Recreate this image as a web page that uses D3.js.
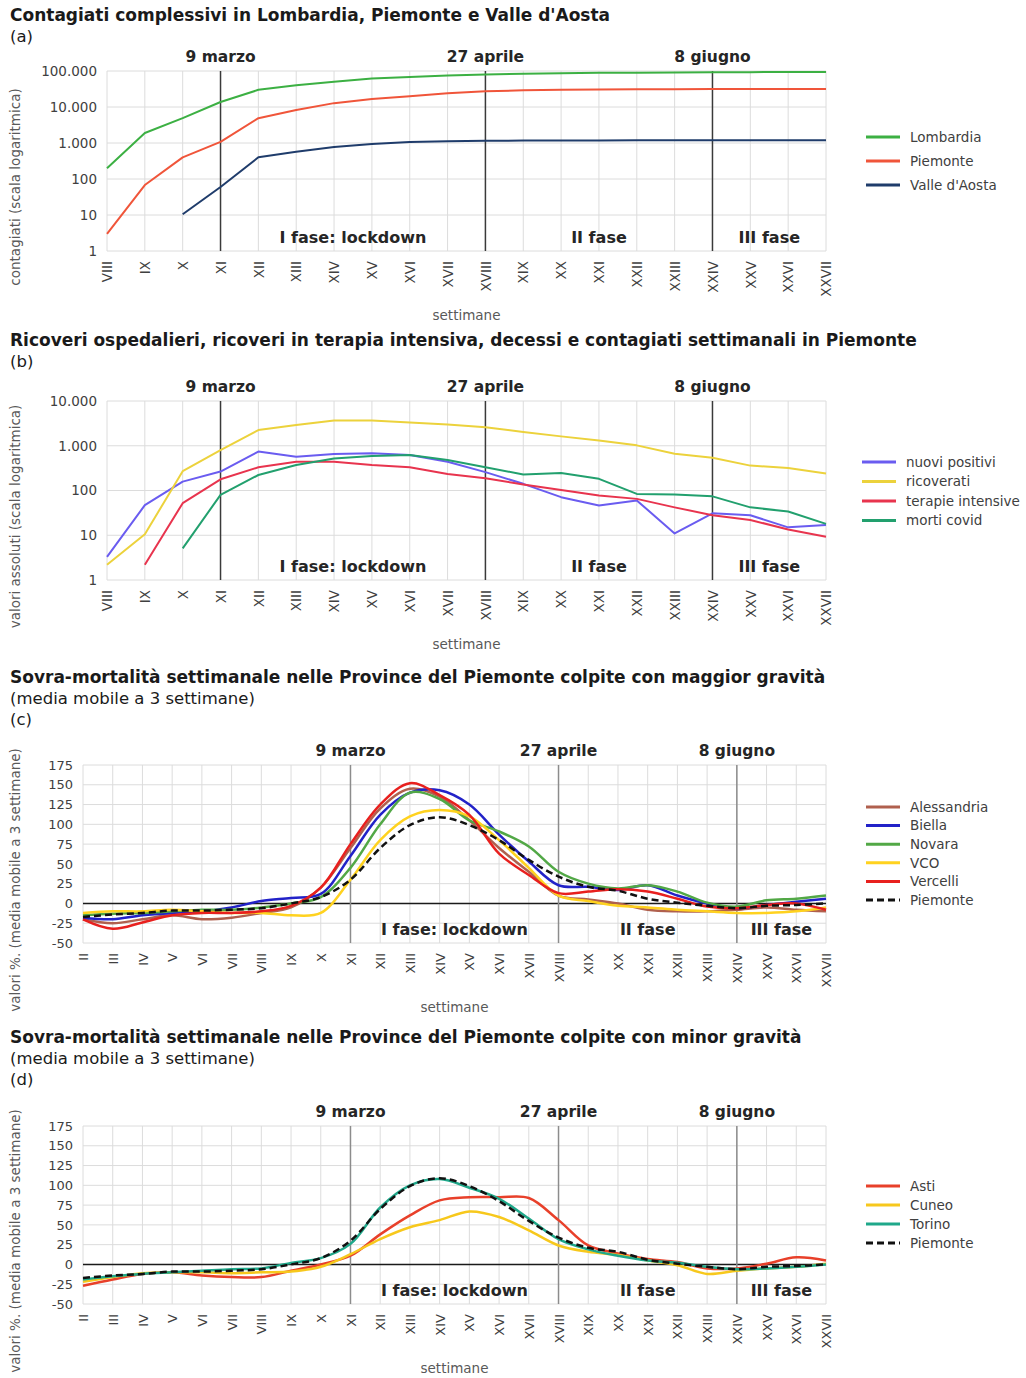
<!DOCTYPE html>
<html>
<head>
<meta charset="utf-8">
<script src="https://cdn.jsdelivr.net/npm/d3@7"></script>
<style>
  body { margin: 0; background: #fff; }
  text { font-family: "DejaVu Sans", Verdana, sans-serif; }
</style>
</head>
<body>
<div id="chart"></div>
<script>
// Weeks (roman numerals) on the x axis
const weeksAB = ["VIII", "IX", "X", "XI", "XII", "XIII", "XIV", "XV", "XVI", "XVII", "XVIII",
                 "XIX", "XX", "XXI", "XXII", "XXIII", "XXIV", "XXV", "XXVI", "XXVII"];
const weeksCD = ["II", "III", "IV", "V", "VI", "VII"].concat(weeksAB);

// Event markers and phases
const eventWeeks = ["XI", "XVIII", "XXIV"];
const eventLabels = ["9 marzo", "27 aprile", "8 giugno"];
const phaseLabels = ["I fase: lockdown", "II fase", "III fase"];

// (a) cumulative cases
const lombardia = [200, 1900, 4900, 13800, 30000, 40000, 50000, 62000, 68000, 75000, 80000,
                   84000, 87000, 89000, 90000, 91000, 92000, 93000, 93500, 94000];
const piemonteCum = [3, 68, 400, 1070, 4900, 8300, 12800, 16700, 20000, 24000, 27500,
                     29000, 30000, 30500, 31000, 31200, 31400, 31500, 31600, 31800];
const valleAosta = [null, null, 10.5, 60, 400, 570, 780, 940, 1070, 1120, 1150,
                    1165, 1175, 1180, 1185, 1190, 1190, 1195, 1195, 1200];

// (b) weekly values in Piemonte
const nuoviPositivi = [3.3, 47, 158, 265, 740, 570, 655, 680, 620, 440, 257,
                       141, 71, 46, 60, 11, 31, 28, 15, 17];
const ricoverati = [2.2, 10.5, 270, 800, 2240, 2900, 3650, 3650, 3300, 3000, 2600,
                    2030, 1620, 1310, 1020, 660, 540, 360, 320, 240];
const terapieIntensive = [null, 2.2, 52, 178, 330, 440, 440, 370, 330, 234, 187,
                          136, 103, 77, 65, 42, 28, 22, 13.4, 9.3];
const mortiCovid = [null, null, 5.1, 80, 222, 370, 520, 590, 620, 480, 330,
                    228, 245, 182, 84, 81, 74, 42, 34, 18];

// (c) provinces hit harder (3-week moving average, %)
const alessandria = [-20, -25, -20, -15, -20, -18, -12, -5, 20, 70, 120, 145, 135,
                     105, 70, 40, 10, 5, 0, -8, -10, -10, -8, -5, -8, -10];
const biella = [-18, -20, -15, -12, -10, -5, 3, 7, 12, 60, 112, 140, 143,
                125, 87, 53, 23, 21, 17, 23, 10, 0, -6, -2, 2, 6];
const novara = [-15, -13, -12, -10, -8, -8, -5, 0, 8, 45, 100, 140, 132,
                105, 91, 72, 40, 25, 19, 23, 15, 1, -4, 4, 6, 10];
const vco = [-12, -10, -10, -8, -10, -12, -12, -15, -12, 30, 80, 110, 118,
             110, 80, 45, 10, 3, -3, -5, -8, -10, -12, -12, -10, -5];
const vercelli = [-20, -32, -24, -15, -12, -12, -10, -3, 20, 75, 125, 152, 137,
                  112, 63, 36, 13, 15, 18, 15, 6, -4, -6, -2, 0, -8];
const piemonte3w = [-17, -14, -12, -9, -9, -8, -6, 0, 8, 30, 70, 99, 109,
                    99, 80, 55, 34, 21, 16, 6, 1, -3, -6, -3, -2, 0];

// (d) provinces hit less
const asti = [-27, -19, -12, -10, -14, -16, -16, -8, 0, 11, 38, 62, 81,
              85, 85, 84, 56, 24, 14, 7, 3, -5, -5, 1, 9, 5];
const cuneo = [-22, -16, -11, -10, -10, -11, -10, -9, -3, 13, 32, 47, 56,
               67, 60, 43, 24, 16, 12, 5, -1, -12, -8, -5, -3, 1];
const torino = [-19, -15, -12, -10, -8, -6, -5, 2, 8, 26, 72, 100, 108,
                97, 83, 58, 32, 19, 11, 5, 2, -3, -6, -5, -3, 0];

const logTicksA = [1, 10, 100, 1000, 10000, 100000];
const logTicksB = [1, 10, 100, 1000, 10000];
const pctTicks = [-50, -25, 0, 25, 50, 75, 100, 125, 150, 175];

// Italian number format
const itLocale = d3.formatLocale({decimal: ",", thousands: ".", grouping: [3], currency: ["", "€"], minus: "-"});
const fmtInt = itLocale.format(",");

const svg = d3.select("#chart")
              .append("svg")
              .attr("width", 1026)
              .attr("height", 1378);

function drawPanel(p) {
   let g = svg.append("g");

   // Titles: first line bold, the rest regular
   p.titles.forEach((t, i) => {
      g.append("text")
       .attr("x", 10)
       .attr("y", p.titleY + i * 21)
       .style("font-size", i == 0 ? "17px" : "16.5px")
       .style("font-weight", i == 0 ? "bold" : "normal")
       .attr("fill", "#1a1a1a")
       .text(t);
   });

   let x = d3.scalePoint()
             .domain(p.weeks)
             .range([p.left, p.right]);

   let y = (p.log ? d3.scaleLog() : d3.scaleLinear())
             .domain(p.yDomain)
             .range([p.bottom, p.top]);

   // Grid
   g.append("g")
    .selectAll("line")
    .data(p.weeks)
    .join("line")
    .attr("x1", d => x(d)).attr("x2", d => x(d))
    .attr("y1", p.top).attr("y2", p.bottom)
    .attr("stroke", "#dcdcdc");

   g.append("g")
    .selectAll("line")
    .data(p.yTicks)
    .join("line")
    .attr("x1", p.left).attr("x2", p.right)
    .attr("y1", d => y(d)).attr("y2", d => y(d))
    .attr("stroke", "#dcdcdc");

   // Y axis
   g.append("g")
    .attr("transform", `translate(${p.left},0)`)
    .call(d3.axisLeft(y).tickValues(p.yTicks).tickSize(0).tickPadding(10).tickFormat(fmtInt))
    .call(a => a.select(".domain").remove())
    .call(a => a.selectAll("text")
                .style("font-size", p.tickSize)
                .style("font-family", "'DejaVu Sans', sans-serif")
                .attr("fill", "#404040"));

   // X axis, labels rotated
   g.append("g")
    .attr("transform", `translate(0,${p.bottom})`)
    .call(d3.axisBottom(x).tickSize(0))
    .call(a => a.select(".domain").remove())
    .call(a => a.selectAll("text")
                .attr("transform", "rotate(-90)")
                .attr("text-anchor", "end")
                .attr("x", -10)
                .attr("y", 0)
                .attr("dy", "0.35em")
                .style("font-size", p.tickSize)
                .style("font-family", "'DejaVu Sans', sans-serif")
                .attr("fill", "#404040"));

   // Zero line
   if (!p.log) {
      g.append("line")
       .attr("x1", p.left).attr("x2", p.right)
       .attr("y1", y(0)).attr("y2", y(0))
       .attr("stroke", "#1a1a1a")
       .attr("stroke-width", 1.5);
   }

   // Event lines and labels
   eventWeeks.forEach((w, i) => {
      g.append("line")
       .attr("x1", x(w)).attr("x2", x(w))
       .attr("y1", p.top).attr("y2", p.bottom)
       .attr("stroke", p.eventColor)
       .attr("stroke-width", 1.5);
      g.append("text")
       .attr("x", x(w))
       .attr("y", p.top - 9)
       .attr("text-anchor", "middle")
       .style("font-size", "15.5px")
       .style("font-weight", "bold")
       .attr("fill", "#262626")
       .text(eventLabels[i]);
   });

   // Phase labels
   let bounds = eventWeeks.map(w => x(w)).concat([p.right]);
   phaseLabels.forEach((t, i) => {
      g.append("text")
       .attr("x", (bounds[i] + bounds[i + 1]) / 2)
       .attr("y", p.bottom - 8)
       .attr("text-anchor", "middle")
       .style("font-size", "16px")
       .style("font-weight", "bold")
       .attr("fill", "#262626")
       .text(t);
   });

   // Series
   let line = d3.line()
                .defined(d => d != null)
                .x((d, i) => x(p.weeks[i]))
                .y(d => y(d))
                .curve(p.smooth ? d3.curveCatmullRom : d3.curveLinear);

   p.series.forEach(s => {
      g.append("path")
       .datum(s.values)
       .attr("fill", "none")
       .attr("stroke", s.color)
       .attr("stroke-width", s.width || p.lineWidth)
       .attr("stroke-dasharray", s.dash || null)
       .attr("stroke-linejoin", "round")
       .attr("d", line);
   });

   // Axis titles
   g.append("text")
    .attr("x", (p.left + p.right) / 2)
    .attr("y", p.bottom + 69)
    .attr("text-anchor", "middle")
    .style("font-size", "13.5px")
    .attr("fill", "#595959")
    .text("settimane");

   g.append("text")
    .attr("transform", `translate(20,${(p.top + p.bottom) / 2 + 26}) rotate(-90)`)
    .attr("text-anchor", "middle")
    .style("font-size", "13.5px")
    .attr("fill", "#595959")
    .text(p.yLabel);

   // Legend
   let legend = g.append("g")
                 .attr("transform", `translate(${p.legendX},${p.legendY})`);
   p.series.forEach((s, i) => {
      let row = legend.append("g").attr("transform", `translate(0,${i * p.legendStep})`);
      row.append("line")
         .attr("x1", 0).attr("x2", 34)
         .attr("stroke", s.color)
         .attr("stroke-width", 3)
         .attr("stroke-dasharray", s.dash || null);
      row.append("text")
         .attr("x", 44)
         .attr("dy", "0.35em")
         .style("font-size", "13.5px")
         .attr("fill", "#404040")
         .text(s.name);
   });
}

drawPanel({
   titles: ["Contagiati complessivi in Lombardia, Piemonte e Valle d'Aosta", "(a)"],
   titleY: 21,
   weeks: weeksAB, left: 107, right: 826, top: 71, bottom: 251,
   log: true, yDomain: [1, 100000], yTicks: logTicksA, tickSize: "13.5px",
   eventColor: "#3a3a3a", smooth: false, lineWidth: 2,
   yLabel: "contagiati (scala logaritmica)",
   legendX: 866, legendY: 137, legendStep: 24,
   series: [
      {name: "Lombardia", values: lombardia, color: "#3cb043"},
      {name: "Piemonte", values: piemonteCum, color: "#f0553a"},
      {name: "Valle d'Aosta", values: valleAosta, color: "#1f3c6b"}
   ]
});

drawPanel({
   titles: ["Ricoveri ospedalieri, ricoveri in terapia intensiva, decessi e contagiati settimanali in Piemonte", "(b)"],
   titleY: 346,
   weeks: weeksAB, left: 107, right: 826, top: 401, bottom: 580,
   log: true, yDomain: [1, 10000], yTicks: logTicksB, tickSize: "13.5px",
   eventColor: "#3a3a3a", smooth: false, lineWidth: 2,
   yLabel: "valori assoluti (scala logaritmica)",
   legendX: 862, legendY: 462, legendStep: 19.5,
   series: [
      {name: "nuovi positivi", values: nuoviPositivi, color: "#6a5cf0"},
      {name: "ricoverati", values: ricoverati, color: "#ecd23c"},
      {name: "terapie intensive", values: terapieIntensive, color: "#e8344e"},
      {name: "morti covid", values: mortiCovid, color: "#22a06e"}
   ]
});

drawPanel({
   titles: ["Sovra-mortalità settimanale nelle Province del Piemonte colpite con maggior gravità",
            "(media mobile a 3 settimane)", "(c)"],
   titleY: 683,
   weeks: weeksCD, left: 83, right: 826, top: 765, bottom: 943,
   log: false, yDomain: [-50, 175], yTicks: pctTicks, tickSize: "13px",
   eventColor: "#8c8c8c", smooth: true, lineWidth: 2.5,
   yLabel: "valori %. (media mobile a 3 settimane)",
   legendX: 866, legendY: 807, legendStep: 18.6,
   series: [
      {name: "Alessandria", values: alessandria, color: "#b0604e"},
      {name: "Biella", values: biella, color: "#2222c8"},
      {name: "Novara", values: novara, color: "#52a846"},
      {name: "VCO", values: vco, color: "#ffd21f"},
      {name: "Vercelli", values: vercelli, color: "#e8201e"},
      {name: "Piemonte", values: piemonte3w, color: "#111", dash: "7,4"}
   ]
});

drawPanel({
   titles: ["Sovra-mortalità settimanale nelle Province del Piemonte colpite con minor gravità",
            "(media mobile a 3 settimane)", "(d)"],
   titleY: 1043,
   weeks: weeksCD, left: 83, right: 826, top: 1126, bottom: 1304,
   log: false, yDomain: [-50, 175], yTicks: pctTicks, tickSize: "13px",
   eventColor: "#8c8c8c", smooth: true, lineWidth: 2.5,
   yLabel: "valori %. (media mobile a 3 settimane)",
   legendX: 866, legendY: 1186, legendStep: 19,
   series: [
      {name: "Asti", values: asti, color: "#e8402a"},
      {name: "Cuneo", values: cuneo, color: "#f7c81c"},
      {name: "Torino", values: torino, color: "#1fa88a"},
      {name: "Piemonte", values: piemonte3w, color: "#111", dash: "7,4"}
   ]
});
</script>
</body>
</html>
